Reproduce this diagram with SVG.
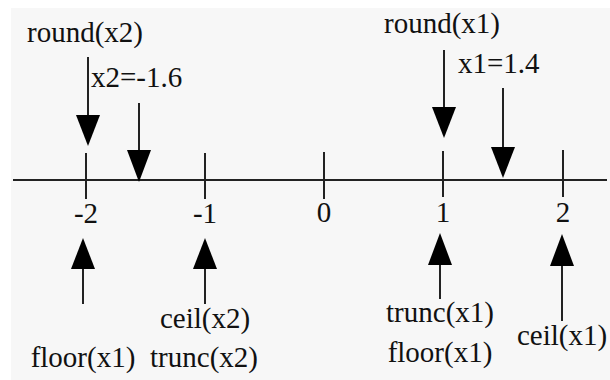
<svg xmlns="http://www.w3.org/2000/svg" width="610" height="380" viewBox="0 0 610 380">
<style>
.t{font-family:"Liberation Serif","Times New Roman",serif;font-size:29px;fill:#111}
.c{text-anchor:middle}
.ln{stroke:#222;stroke-width:2;fill:none}
.hd{fill:#000}
</style>
<rect x="0" y="0" width="610" height="380" fill="#fff"/>
<rect x="11" y="8" width="599" height="372" fill="#f7f7f7"/>
<g id="axis">
<line class="ln" x1="13" y1="180" x2="607" y2="180"/>
<line class="ln" x1="86" y1="153" x2="86" y2="199"/>
<line class="ln" x1="205" y1="153" x2="205" y2="199"/>
<line class="ln" x1="324" y1="152" x2="324" y2="199"/>
<line class="ln" x1="443" y1="151" x2="443" y2="197"/>
<line class="ln" x1="563" y1="150" x2="563" y2="197"/>
</g>
<g id="tick-m2"><text class="t c" x="86" y="223">-2</text></g>
<g id="tick-m1"><text class="t c" x="205" y="223">-1</text></g>
<g id="tick-0"><text class="t c" x="324" y="222">0</text></g>
<g id="tick-1"><text class="t c" x="443" y="222">1</text></g>
<g id="tick-2"><text class="t c" x="563" y="222">2</text></g>
<g id="round-x2"><text class="t" x="27" y="42">round(x2)</text></g>
<g id="x2-val"><text class="t" x="91" y="87">x2=-1.6</text></g>
<g id="round-x1"><text class="t" x="384" y="33">round(x1)</text></g>
<g id="x1-val"><text class="t" x="458" y="73">x1=1.4</text></g>
<g id="ceil-x2"><text class="t c" x="205" y="328">ceil(x2)</text></g>
<g id="floor-x1-left"><text class="t c" x="83" y="367">floor(x1)</text></g>
<g id="trunc-x2"><text class="t c" x="204" y="367">trunc(x2)</text></g>
<g id="trunc-x1"><text class="t c" x="440" y="322">trunc(x1)</text></g>
<g id="floor-x1-right"><text class="t c" x="440" y="362">floor(x1)</text></g>
<g id="ceil-x1"><text class="t c" x="562" y="345">ceil(x1)</text></g>
<g id="connectors">
<line class="ln" x1="88" y1="57" x2="88" y2="118"/>
<polygon class="hd" points="76,115 100,115 88,146"/>
<line class="ln" x1="139" y1="103" x2="139" y2="152"/>
<polygon class="hd" points="127,150 151,150 139,182"/>
<line class="ln" x1="444" y1="50" x2="444" y2="110"/>
<polygon class="hd" points="432,107 456,107 444,138"/>
<line class="ln" x1="503" y1="88" x2="503" y2="150"/>
<polygon class="hd" points="491,147 515,147 503,178"/>
<line class="ln" x1="83" y1="266" x2="83" y2="304"/>
<polygon class="hd" points="71,269 95,269 83,238"/>
<line class="ln" x1="205" y1="266" x2="205" y2="304"/>
<polygon class="hd" points="193,269 217,269 205,238"/>
<line class="ln" x1="440" y1="262" x2="440" y2="299"/>
<polygon class="hd" points="428,265 452,265 440,233"/>
<line class="ln" x1="562" y1="263" x2="562" y2="321"/>
<polygon class="hd" points="550,266 574,266 562,234"/>
</g>
</svg>
